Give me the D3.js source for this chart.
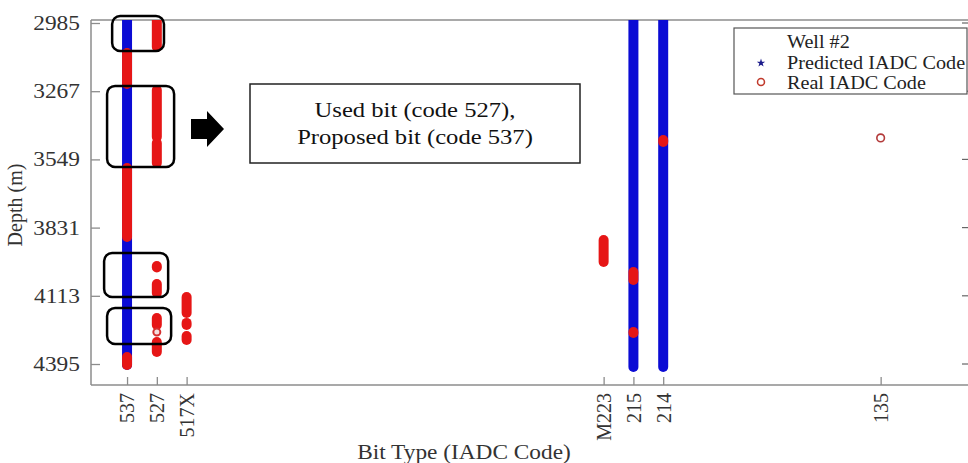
<!DOCTYPE html>
<html>
<head>
<meta charset="utf-8">
<script src="https://cdn.jsdelivr.net/npm/d3@7"></script>
<style>
body { margin:0; background:#fff; }
text { font-family:"Liberation Serif","Times New Roman",serif; }
</style>
</head>
<body>
<svg id="chart" width="968" height="463"></svg>
<script>
// x categories (IADC codes) and their slot along the axis
var codes = ["537","527","517X","M223","215","214","135"];
var codeSlot = [0, 1, 2, 16, 17, 18, 25.3];
var depthTicks = [2985, 3267, 3549, 3831, 4113, 4395];

// predicted code by depth interval (m)
var predicted = [
  {code:"537", from:2960, to:4399},
  {code:"215", from:2960, to:4407},
  {code:"214", from:2960, to:4407}
];
// real code by depth interval (m)
var real = [
  {code:"537", from:3109, to:3237},
  {code:"537", from:3585, to:3870},
  {code:"537", from:4366, to:4399},
  {code:"527", from:2960, to:3084},
  {code:"527", from:3262, to:3456},
  {code:"527", from:3481, to:3564},
  {code:"527", from:3990, to:3996},
  {code:"527", from:4064, to:4101},
  {code:"527", from:4205, to:4234},
  {code:"527", from:4304, to:4345},
  {code:"517X", from:4118, to:4184},
  {code:"517X", from:4225, to:4234},
  {code:"517X", from:4279, to:4296},
  {code:"M223", from:3882, to:3973},
  {code:"215", from:4015, to:4048},
  {code:"215", from:4263, to:4267},
  {code:"214", from:3469, to:3477}
];
var realSingle = [
  {code:"527", depth:4263},
  {code:"135", depth:3460}
];
// highlighted depth windows (boxes around 537/527)
var boxes = [
  {from:2956, to:3101, s0:-0.5, s1:1.24},
  {from:3245, to:3580, s0:-0.67, s1:1.58},
  {from:3936, to:4118, s0:-0.77, s1:1.38},
  {from:4163, to:4312, s0:-0.67, s1:1.48}
];

var svg = d3.select("#chart");
var pLeft = 91, pRight = 970, pTop = 20, pBottom = 385;
var blue = "#0b0bd4", red = "#e61616";

var x = d3.scaleLinear().domain([-1.21, 28.3]).range([pLeft, pRight]);
var y = d3.scaleLinear().domain([2972.6, 4481.8]).range([pTop, pBottom]);
var slot = function(c){ return x(codeSlot[codes.indexOf(c)]); };

// the source figure is a bit wider than tall, stretch text to match
function stretch(sel, k) {
  sel.each(function(){
    var w = this.getComputedTextLength();
    d3.select(this).attr("textLength", w*k).attr("lengthAdjust","spacingAndGlyphs");
  });
}

svg.append("defs").append("clipPath").attr("id","plot")
  .append("rect").attr("x",pLeft).attr("y",pTop).attr("width",pRight-pLeft).attr("height",pBottom-pTop);

var axisColor = "#8c8c8c";

// frame
svg.append("line").attr("x1",pLeft).attr("x2",pRight).attr("y1",pTop).attr("y2",pTop)
  .attr("stroke",axisColor).attr("stroke-width",1.5);

var gData = svg.append("g").attr("clip-path","url(#plot)");

gData.selectAll(".pred").data(predicted).enter().append("line")
  .attr("class","pred")
  .attr("x1",d=>slot(d.code)).attr("x2",d=>slot(d.code))
  .attr("y1",d=>y(d.from)).attr("y2",d=>y(d.to))
  .attr("stroke",blue).attr("stroke-width",10).attr("stroke-linecap","round");

gData.selectAll(".real").data(real).enter().append("line")
  .attr("class","real")
  .attr("x1",d=>slot(d.code)).attr("x2",d=>slot(d.code))
  .attr("y1",d=>y(d.from)).attr("y2",d=>y(d.to))
  .attr("stroke",red).attr("stroke-width",10).attr("stroke-linecap","round");

gData.selectAll(".single").data(realSingle).enter().append("circle")
  .attr("class","single")
  .attr("cx",d=>slot(d.code)).attr("cy",d=>y(d.depth))
  .attr("r",d=>d.code=="135"?3.8:3.5)
  .attr("fill",d=>d.code=="135"?"none":"#f4dede")
  .attr("stroke",d=>d.code=="135"?"#b33a3a":"#d43030")
  .attr("stroke-width",d=>d.code=="135"?1.6:2);

// left axis
var yAxis = d3.axisLeft(y).tickValues(depthTicks).tickFormat(d3.format("d"))
  .tickSize(-9).tickPadding(11).tickSizeOuter(0);
var gy = svg.append("g").attr("transform","translate("+pLeft+",0)").call(yAxis);
gy.select(".domain").attr("stroke",axisColor).attr("stroke-width",1.5).attr("d","M0,"+pTop+"V"+pBottom);
gy.selectAll(".tick line").attr("stroke",axisColor).attr("stroke-width",1.3);
gy.selectAll(".tick text").attr("fill","#333").style("font-size","20px")
  .attr("x",-11).attr("font-family","Liberation Serif, serif")
  .call(stretch, 1.17);

// right ticks
svg.selectAll(".rtick").data(depthTicks).enter().append("line")
  .attr("x1",pRight).attr("x2",pRight-8).attr("y1",d=>y(d)).attr("y2",d=>y(d))
  .attr("stroke","#666").attr("stroke-width",1.2);

// bottom axis
var xAxis = d3.axisBottom(x).tickValues(codeSlot).tickFormat((d,i)=>codes[i])
  .tickSize(-8).tickSizeOuter(0);
var gx = svg.append("g").attr("transform","translate(0,"+pBottom+")").call(xAxis);
gx.select(".domain").attr("stroke",axisColor).attr("stroke-width",1.5).attr("d","M"+pLeft+",0H"+pRight);
gx.selectAll(".tick line").attr("stroke",axisColor).attr("stroke-width",1.3);
gx.selectAll(".tick text").attr("fill","#333").style("font-size","20px")
  .attr("font-family","Liberation Serif, serif")
  .attr("text-anchor","end").attr("transform","rotate(-90)")
  .attr("x",-8).attr("y",0).attr("dy","0.34em");

// axis titles
svg.append("text").attr("transform","translate(22,205) rotate(-90)")
  .attr("text-anchor","middle").attr("fill","#333").style("font-size","20px").text("Depth (m)");
svg.append("text").attr("x",464).attr("y",459)
  .attr("text-anchor","middle").attr("fill","#333").style("font-size","21px").text("Bit Type (IADC Code)")
  .call(stretch, 1.11);

// highlight boxes
svg.selectAll(".hbox").data(boxes).enter().append("rect")
  .attr("x",d=>x(d.s0)).attr("y",d=>y(d.from))
  .attr("width",d=>x(d.s1)-x(d.s0)).attr("height",d=>y(d.to)-y(d.from))
  .attr("rx",8).attr("fill","none").attr("stroke","#000").attr("stroke-width",2.5);

// arrow + note
svg.append("path")
  .attr("d","M191,119H207V111L224,129L207,147V139H191Z")
  .attr("fill","#000");
svg.append("rect").attr("x",250).attr("y",84).attr("width",330).attr("height",79)
  .attr("fill","#fff").attr("stroke","#222").attr("stroke-width",1.5);
var noteLines = ["Used bit (code 527),","Proposed bit (code 537)"];
svg.selectAll(".note").data(noteLines).enter().append("text")
  .attr("class","note").attr("text-anchor","middle").attr("x",415).attr("y",(d,i)=>117+i*27)
  .attr("fill","#111").style("font-size","20px").text(d=>d)
  .call(stretch, 1.23);

// legend
var lg = svg.append("g");
lg.append("rect").attr("x",734).attr("y",28).attr("width",233).attr("height",66)
  .attr("fill","#fff").attr("stroke","#555").attr("stroke-width",1.2);
var legendItems = ["Well #2","Predicted IADC Code","Real IADC Code"];
lg.selectAll(".lt").data(legendItems).enter().append("text")
  .attr("x",787).attr("y",(d,i)=>48+i*20.5)
  .attr("fill","#222").style("font-size","18.5px").text(d=>d)
  .call(stretch, 1.09);
lg.append("path").attr("d",d3.symbol(d3.symbolStar,22)())
  .attr("transform","translate(761,63)").attr("fill","#1a1a8a");
lg.append("circle").attr("cx",761).attr("cy",82).attr("r",3.5)
  .attr("fill","none").attr("stroke","#c0392b").attr("stroke-width",1.5);
</script>
</body>
</html>
